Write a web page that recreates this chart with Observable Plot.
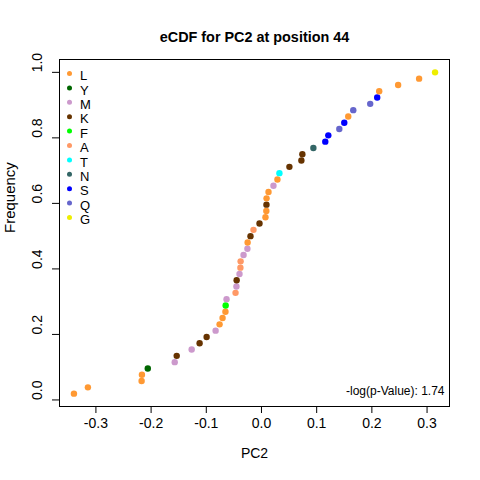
<!DOCTYPE html>
<html>
<head>
<meta charset="utf-8">
<script src="https://cdn.jsdelivr.net/npm/d3@7"></script>
<script src="https://cdn.jsdelivr.net/npm/@observablehq/plot@0.6"></script>
<style>
  html, body { margin: 0; padding: 0; background: #fff; }
  #chart { width: 480px; height: 480px; }
</style>
</head>
<body>
<div id="chart"></div>
<script>
// PC2 values (sorted, as read from the eCDF)
const pc2Values = [
  -0.3398, -0.3145, -0.2172, -0.2166, -0.2060, -0.1572, -0.1536, -0.1265,
  -0.1121, -0.0994, -0.0831, -0.0759, -0.0705, -0.0653, -0.0649, -0.0633,
  -0.0470, -0.0454, -0.0450, -0.0398, -0.0382, -0.0378, -0.0325, -0.0255,
  -0.0251, -0.0199, -0.0145, -0.0036, 0.0072, 0.0088, 0.0090, 0.0092,
  0.0127, 0.0217, 0.0289, 0.0325, 0.0506, 0.0723, 0.0741, 0.0940,
  0.1156, 0.1211, 0.1410, 0.1500, 0.1572, 0.1663, 0.1970, 0.2097,
  0.2133, 0.2476, 0.2856, 0.3145
];
// amino acid of each point
const aaLabels = [
  "L","L","L","L","Y","M","K","M",
  "K","K","M","L","L","L","F","M",
  "A","M","K","M","A","A","M","M",
  "L","K","A","K","L","L","K","L",
  "L","M","L","T","K","K","K","N",
  "S","S","Q","S","L","Q","Q","S",
  "L","L","L","G"
];
const legendLevels = ["L","Y","M","K","F","A","T","N","S","Q","G"];
const legendColors = ["#FF9933","#006600","#CC99CC","#663300","#00FF00","#FF9966","#00FFFF","#336666","#0000FF","#6666CC","#EEEE00"];
const xTicks = [-0.3, -0.2, -0.1, 0.0, 0.1, 0.2, 0.3];
const yTicks = [0.0, 0.2, 0.4, 0.6, 0.8, 1.0];
const titleText = "eCDF for PC2 at position 44";
const xLabel = "PC2";
const yLabel = "Frequency";
const noteText = "-log(p-Value): 1.74";

const n = pc2Values.length;
const data = pc2Values.map((v, i) => ({pc2: v, freq: (i + 1) / n, aa: aaLabels[i]}));

// R-style 4% axis extension
const pad = (lo, hi) => { const r = hi - lo; return [lo - 0.04 * r, hi + 0.04 * r]; };
const xDomain = pad(d3.min(pc2Values), d3.max(pc2Values));
const yDomain = pad(d3.min(data, d => d.freq), d3.max(data, d => d.freq));

const font = "Liberation Sans, Arial, Helvetica, sans-serif";

const legendMarks = legendLevels.flatMap((aa, i) => [
  Plot.dot([aa], {frameAnchor: "top-left", dx: 10, dy: 14 + i * 14.4, r: 2.5, fill: d => d}),
  Plot.text([aa], {frameAnchor: "top-left", dx: 20.5, dy: 11.5 + i * 14.4, text: d => d, textAnchor: "start", fontSize: 13, fill: "black"})
]);

const chart = Plot.plot({
  width: 480,
  height: 480,
  marginLeft: 59,
  marginRight: 31,
  marginTop: 59,
  marginBottom: 74,
  style: {fontFamily: font, background: "white", color: "black"},
  x: {domain: xDomain},
  y: {domain: yDomain},
  color: {domain: legendLevels, range: legendColors},
  marks: [
    Plot.frame({stroke: "black"}),
    Plot.axisX(xTicks, {tickSize: 7, tickPadding: 5, fontSize: 14, tickFormat: d => d.toFixed(1), label: null}),
    Plot.axisY(yTicks, {tickSize: 7, tickFormat: () => "", label: null}),
    Plot.text(yTicks, {y: d => d, text: d => d.toFixed(1), frameAnchor: "left", dx: -22, rotate: -90, fontSize: 14, fill: "black"}),
    Plot.dot(data, {x: "pc2", y: "freq", fill: "aa", r: 3.2}),
    ...legendMarks,
    Plot.text([noteText], {frameAnchor: "bottom-right", dx: -5, dy: -12, text: d => d, textAnchor: "end", fontSize: 12, fill: "black"}),
    Plot.text([titleText], {frameAnchor: "top", dy: -28, text: d => d, fontSize: 14.4, fontWeight: "bold", fill: "black"}),
    Plot.text([xLabel], {frameAnchor: "bottom", dy: 51, text: d => d, fontSize: 14, fill: "black"}),
    Plot.text([yLabel], {frameAnchor: "left", dx: -49, rotate: -90, text: d => d, fontSize: 15, fill: "black"})
  ]
});
document.getElementById("chart").appendChild(chart);
</script>
</body>
</html>
